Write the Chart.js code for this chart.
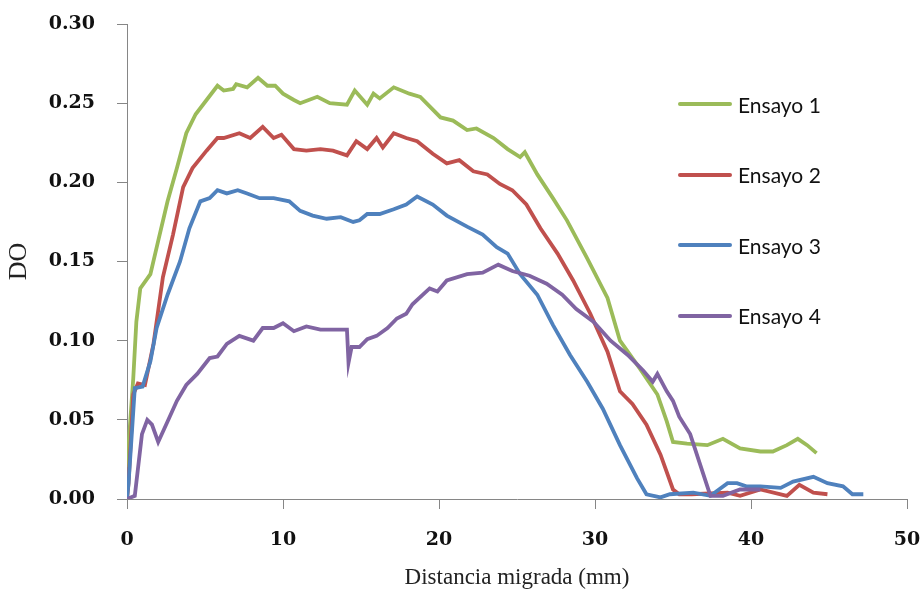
<!DOCTYPE html>
<html>
<head>
<meta charset="utf-8">
<script src="https://cdn.jsdelivr.net/npm/chart.js@4.4.1/dist/chart.umd.min.js"></script>
<style>
    html, body { margin: 0; padding: 0; background: #ffffff; }
    #wrap { position: relative; width: 922px; height: 599px; }
    #legend { position: absolute; left: 678px; top: 89px; font-family: Lato, sans-serif; font-size: 21px; color: #111; }
    .item { display: flex; align-items: center; height: 30px; margin-bottom: 40.5px; }
    .swatch { width: 54px; height: 4px; border-radius: 2px; margin-right: 6px; }
</style>
</head>
<body>
<div id="wrap">
    <canvas id="chart" width="922" height="599"></canvas>
    <div id="legend"></div>
</div>
<script>
const seriesNames = ['Ensayo 1', 'Ensayo 2', 'Ensayo 3', 'Ensayo 4'];
const seriesColors = ['#9bbb59', '#c0504d', '#4f81bd', '#8064a2'];
const xTicks = [0, 10, 20, 30, 40, 50];
const yTicks = [0, 0.05, 0.10, 0.15, 0.20, 0.25, 0.30];

const ensayo1X = [0, 0.1, 0.4, 0.6, 0.85, 1.5, 2.0, 2.6, 3.2, 3.8, 4.4, 5.1, 5.8, 6.2, 6.8, 7.0, 7.7, 8.4, 9.0, 9.5, 10.0, 10.7, 11.1, 12.2, 13.0, 14.1, 14.6, 15.4, 15.8, 16.2, 17.1, 18.1, 18.8, 20.1, 20.9, 21.8, 22.4, 23.5, 24.4, 25.2, 25.5, 26.3, 27.3, 28.2, 29.5, 30.8, 31.6, 32.9, 34.0, 34.6, 35.0, 35.9, 37.2, 38.2, 39.3, 40.6, 41.4, 42.3, 43.0, 43.6, 44.2];
const ensayo1Y = [0.02, 0.034, 0.076, 0.112, 0.133, 0.142, 0.163, 0.188, 0.209, 0.231, 0.243, 0.252, 0.261, 0.258, 0.259, 0.262, 0.260, 0.266, 0.261, 0.261, 0.256, 0.252, 0.250, 0.254, 0.250, 0.249, 0.258, 0.249, 0.256, 0.253, 0.260, 0.256, 0.254, 0.241, 0.239, 0.233, 0.234, 0.228, 0.221, 0.216, 0.219, 0.205, 0.190, 0.176, 0.152, 0.127, 0.100, 0.082, 0.066, 0.049, 0.036, 0.035, 0.034, 0.038, 0.032, 0.030, 0.030, 0.034, 0.038, 0.034, 0.029];

const ensayo2X = [0, 0.1, 0.4, 0.7, 1.15, 1.7, 2.3, 2.95, 3.6, 4.2, 5.1, 5.8, 6.2, 7.2, 7.9, 8.7, 9.4, 9.9, 10.7, 11.5, 12.4, 13.2, 14.1, 14.7, 15.4, 16.0, 16.4, 17.1, 17.9, 18.6, 19.6, 20.5, 21.3, 22.2, 23.1, 23.9, 24.7, 25.6, 26.5, 27.6, 28.6, 29.7, 30.8, 31.6, 32.4, 33.3, 34.2, 35.0, 35.4, 36.2, 38.5, 39.3, 40.6, 42.3, 43.1, 44.0, 44.9];
const ensayo2Y = [0, 0.01, 0.066, 0.073, 0.072, 0.098, 0.140, 0.167, 0.197, 0.209, 0.220, 0.228, 0.228, 0.231, 0.228, 0.235, 0.228, 0.230, 0.221, 0.220, 0.221, 0.220, 0.217, 0.226, 0.221, 0.228, 0.222, 0.231, 0.228, 0.226, 0.218, 0.212, 0.214, 0.207, 0.205, 0.199, 0.195, 0.186, 0.171, 0.155, 0.138, 0.117, 0.093, 0.068, 0.060, 0.047, 0.028, 0.006, 0.003, 0.003, 0.004, 0.002, 0.006, 0.002, 0.009, 0.004, 0.003];

const ensayo3X = [0, 0.1, 0.5, 1.0, 1.5, 1.9, 2.6, 3.4, 4.0, 4.7, 5.3, 5.8, 6.4, 7.1, 7.7, 8.5, 9.4, 10.4, 11.1, 11.9, 12.8, 13.7, 14.5, 14.9, 15.4, 16.2, 17.1, 17.9, 18.6, 19.6, 20.5, 21.8, 22.8, 23.7, 24.4, 25.2, 26.3, 27.3, 28.4, 29.5, 30.5, 31.6, 32.7, 33.3, 34.2, 34.8, 36.3, 37.4, 38.5, 39.1, 39.7, 40.6, 41.9, 42.7, 44.0, 44.9, 45.9, 46.5, 47.2];
const ensayo3Y = [0, 0.01, 0.070, 0.071, 0.087, 0.108, 0.129, 0.150, 0.171, 0.188, 0.190, 0.195, 0.193, 0.195, 0.193, 0.190, 0.190, 0.188, 0.182, 0.179, 0.177, 0.178, 0.175, 0.176, 0.180, 0.180, 0.183, 0.186, 0.191, 0.186, 0.179, 0.172, 0.167, 0.159, 0.155, 0.142, 0.129, 0.110, 0.091, 0.074, 0.057, 0.034, 0.013, 0.003, 0.001, 0.003, 0.004, 0.002, 0.010, 0.010, 0.008, 0.008, 0.007, 0.011, 0.014, 0.010, 0.008, 0.003, 0.003];

const ensayo4X = [0, 0.5, 0.96, 1.3, 1.6, 2.0, 2.6, 3.2, 3.8, 4.5, 5.3, 5.8, 6.4, 7.2, 8.1, 8.7, 9.4, 10.0, 10.7, 11.5, 12.4, 13.2, 14.0, 14.1, 14.2, 14.4, 14.9, 15.4, 16.0, 16.7, 17.3, 17.9, 18.3, 19.4, 19.9, 20.5, 21.8, 22.8, 23.8, 24.7, 25.8, 26.9, 27.9, 28.8, 29.9, 31.0, 32.1, 33.1, 33.7, 34.0, 34.6, 35.0, 35.4, 36.1, 36.7, 37.4, 38.2, 39.3, 40.1, 40.6];
const ensayo4Y = [0, 0.002, 0.041, 0.050, 0.047, 0.036, 0.049, 0.062, 0.072, 0.079, 0.089, 0.090, 0.098, 0.103, 0.100, 0.108, 0.108, 0.111, 0.106, 0.109, 0.107, 0.107, 0.107, 0.107, 0.086, 0.096, 0.096, 0.101, 0.103, 0.108, 0.114, 0.117, 0.123, 0.133, 0.131, 0.138, 0.142, 0.143, 0.148, 0.144, 0.141, 0.136, 0.129, 0.120, 0.112, 0.100, 0.091, 0.081, 0.074, 0.079, 0.068, 0.062, 0.052, 0.041, 0.023, 0.002, 0.002, 0.006, 0.006, 0.006];

const seriesX = [ensayo1X, ensayo2X, ensayo3X, ensayo4X];
const seriesY = [ensayo1Y, ensayo2Y, ensayo3Y, ensayo4Y];

function toPoints(xs, ys) {
    return xs.map(function (x, i) {
        return { x: x, y: ys[i] };
    });
}

const axisColor = '#868686';
const tickFont = { family: 'DejaVu Serif', size: 19, weight: 'bold' };

const htmlLegend = {
    id: 'htmlLegend',
    afterUpdate: function (chart) {
        const box = document.getElementById('legend');
        box.innerHTML = '';
        chart.data.datasets.forEach(function (ds) {
            const item = document.createElement('div');
            item.className = 'item';
            const swatch = document.createElement('span');
            swatch.className = 'swatch';
            swatch.style.background = ds.borderColor;
            const label = document.createElement('span');
            label.textContent = ds.label;
            item.appendChild(swatch);
            item.appendChild(label);
            box.appendChild(item);
        });
    }
};

new Chart(document.getElementById('chart'), {
    type: 'line',
    data: {
        datasets: seriesNames.map(function (name, i) {
            return {
                label: name,
                data: toPoints(seriesX[i], seriesY[i]),
                borderColor: seriesColors[i],
                backgroundColor: seriesColors[i],
                borderWidth: 3.8,
                pointRadius: 0,
                tension: 0,
                fill: false,
                order: 4 - i
            };
        })
    },
    options: {
        responsive: false,
        animation: false,
        layout: { padding: { top: 24, right: 15, bottom: 0, left: 0 } },
        plugins: {
            legend: { display: false },
            tooltip: { enabled: false }
        },
        scales: {
            x: {
                type: 'linear',
                min: 0,
                max: 50,
                afterBuildTicks: function (scale) {
                    scale.ticks = xTicks.map(function (v) { return { value: v }; });
                },
                afterFit: function (scale) {
                    scale.height = 100;
                    scale.paddingLeft = 0;
                    scale.paddingRight = 0;
                },
                grid: { drawOnChartArea: false, tickLength: 10, color: axisColor },
                border: { color: axisColor, width: 1 },
                ticks: { font: tickFont, color: '#111', padding: 20, maxRotation: 0 },
                title: {
                    display: true,
                    text: 'Distancia migrada (mm)',
                    font: { family: 'Liberation Serif', size: 23 },
                    color: '#222',
                    padding: { bottom: 7 }
                }
            },
            y: {
                min: 0,
                max: 0.3,
                afterBuildTicks: function (scale) {
                    scale.ticks = yTicks.map(function (v) { return { value: v }; });
                },
                afterFit: function (scale) {
                    scale.width = 127;
                    scale.paddingTop = 0;
                    scale.paddingBottom = 0;
                },
                grid: { drawOnChartArea: false, tickLength: 10, color: axisColor },
                border: { color: axisColor, width: 1 },
                ticks: {
                    font: tickFont,
                    color: '#111',
                    padding: 22,
                    callback: function (value) { return Number(value).toFixed(2); }
                },
                title: {
                    display: true,
                    text: 'DO',
                    font: { family: 'Liberation Serif', size: 26 },
                    color: '#222',
                    padding: { top: 4 }
                }
            }
        }
    },
    plugins: [htmlLegend]
});
</script>
</body>
</html>
